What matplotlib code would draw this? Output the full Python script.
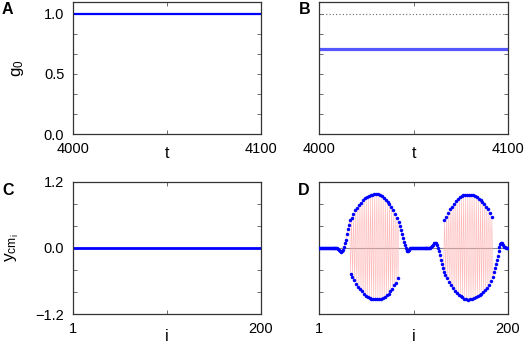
import numpy as np
import matplotlib
matplotlib.use('Agg')
import matplotlib.pyplot as plt
from matplotlib.ticker import AutoMinorLocator, FuncFormatter

plt.rcParams['font.family'] = ['Liberation Sans', 'DejaVu Sans']
plt.rcParams['mathtext.fontset'] = 'custom'
plt.rcParams['mathtext.rm'] = 'Liberation Sans'
plt.rcParams['mathtext.it'] = 'Liberation Sans'

# panel A / B : order parameter vs time
t_A = [4000, 4100]
g_A = [1.0, 1.0]
t_B = [4000, 4100]
g_B = [0.705, 0.705]
g_B_ref = [1.0, 1.0]

# panel C : centre of mass, synchronised state
i_C = [1, 200]
y_C = [0.0, 0.0]

# panel D : centre of mass per oscillator i = 1..200
y_D = [
    0.00, 0.00, 0.00, 0.00, 0.00, 0.00, 0.00, 0.00, 0.00, 0.00,
    0.00, 0.00, 0.00, 0.00, 0.00, 0.00, 0.00, 0.00, 0.00, -0.01,
    -0.02, -0.04, -0.06, -0.07, -0.06, -0.03, 0.02, 0.08, 0.15, 0.25,
    0.34, 0.42, 0.50, -0.47, 0.55, -0.53, 0.62, -0.58, 0.68, -0.66,
    0.73, -0.71, 0.78, -0.75, 0.82, -0.79, 0.86, -0.84, 0.90, -0.87,
    0.92, -0.90, 0.94, -0.91, 0.95, -0.92, 0.96, -0.93, 0.97, -0.93,
    0.98, -0.93, 0.97, -0.93, 0.96, -0.92, 0.94, -0.91, 0.90, -0.89,
    0.87, -0.86, 0.83, -0.83, 0.79, -0.78, 0.75, -0.74, 0.69, -0.68,
    0.62, -0.63, 0.54, -0.55, 0.47, 0.40, 0.33, 0.26, 0.18, 0.11,
    0.05, 0.00, -0.03, -0.05, -0.05, -0.03, -0.01, 0.00, 0.00, 0.00,
    0.00, 0.00, 0.00, 0.00, 0.00, 0.00, 0.00, 0.00, 0.00, 0.00,
    0.00, 0.00, 0.00, 0.00, 0.00, 0.00, 0.00, 0.00, 0.02, 0.04,
    0.06, 0.08, 0.09, 0.08, 0.05, 0.00, -0.06, -0.13, -0.22, -0.30,
    -0.37, -0.43, 0.50, -0.49, 0.56, -0.55, 0.63, -0.62, 0.70, -0.68,
    0.75, -0.73, 0.80, -0.78, 0.85, -0.82, 0.89, -0.85, 0.92, -0.88,
    0.94, -0.90, 0.95, -0.92, 0.96, -0.93, 0.96, -0.94, 0.96, -0.93,
    0.96, -0.92, 0.95, -0.91, 0.94, -0.89, 0.92, -0.87, 0.89, -0.85,
    0.86, -0.83, 0.83, -0.80, 0.80, -0.77, 0.75, -0.73, 0.70, -0.68,
    0.64, -0.60, 0.56, -0.52, -0.44, -0.37, -0.30, -0.22, -0.14, -0.06,
    0.02, 0.07, 0.09, 0.08, 0.05, 0.02, 0.01, 0.00, 0.00, 0.00,
]
i_D = np.arange(1, len(y_D) + 1)

W, H = 529., 349.
fig = plt.figure(figsize=(W/100., H/100.), dpi=100)
fig.patch.set_facecolor('w')

def box(l, t, r, b):
    return [l/W, 1 - b/H, (r - l)/W, (b - t)/H]

axA = fig.add_axes(box(72.7, 1.7, 261, 134))
axB = fig.add_axes(box(319.3, 1.7, 508, 134))
axC = fig.add_axes(box(72.7, 181.7, 261, 314))
axD = fig.add_axes(box(319.3, 181.7, 508, 314))

fmt = FuncFormatter(lambda v, p: ('%.1f' % v).replace('-', '\u2212'))

for ax in [axA, axB, axC, axD]:
    ax.tick_params(which='both', direction='in', top=True, right=True,
                   labelsize=10.5, pad=6, color='#555555')
    ax.tick_params(which='major', length=3, width=0.6)
    ax.tick_params(which='minor', length=3, width=0.6)
    for sp in ax.spines.values():
        sp.set_linewidth(0.9)
        sp.set_color('#333333')

# A
axA.plot(t_A, g_A, color='b', lw=1.6)
# B
axB.plot(t_B, g_B_ref, color='#666666', lw=0.8, ls=(0, (1, 2)))
axB.plot(t_B, g_B, color='#3838ff', lw=2.3, alpha=0.85)
for ax in [axA, axB]:
    ax.set_xlim(4000, 4100)
    ax.set_ylim(0, 1.1)
    ax.set_xticks([4000, 4100])
    ax.set_xticks([4050], minor=True)
    ax.set_yticks([0, 0.5, 1.0])
    ax.yaxis.set_minor_locator(AutoMinorLocator(3))
    ax.yaxis.set_major_formatter(fmt)
    ax.set_xlabel('t', fontsize=11.5)
    ax.xaxis.set_label_coords(0.5, -0.09)
axB.tick_params(labelleft=False)
axA.set_ylabel('g$_0$', fontsize=12, va='center')
axA.yaxis.set_label_coords(-0.29, 0.5)

# C
axC.plot(i_C, y_C, color='b', lw=2)
# D
axD.axhline(0, color='#888888', lw=0.8, zorder=1)
axD.plot(i_D, y_D, color='#ffb3b3', lw=0.35, zorder=2)
axD.plot(i_D, y_D, 'o', color='b', ms=2.5, mec='none', zorder=3)
for ax in [axC, axD]:
    ax.set_xlim(1, 200)
    ax.set_ylim(-1.2, 1.2)
    ax.set_xticks([1, 200])
    ax.set_xticks([100.5], minor=True)
    ax.set_yticks([-1.2, 0, 1.2])
    ax.yaxis.set_minor_locator(AutoMinorLocator(3))
    ax.yaxis.set_major_formatter(fmt)
    ax.set_xlabel('i', fontsize=11.5)
    ax.xaxis.set_label_coords(0.5, -0.11)
axD.tick_params(labelleft=False)
axC.set_ylabel('y$_{\\mathrm{cm}_i}$', fontsize=12.5, va='center')
axC.yaxis.set_label_coords(-0.32, 0.5)

for lab, x, y in [('A', 2, 14.5), ('B', 299, 14.5), ('C', 2, 195), ('D', 298, 195)]:
    fig.text(x/W, 1 - y/H, lab, fontsize=11.5, fontweight='bold', ha='left', va='baseline')

fig.savefig('out.png', dpi=100)
